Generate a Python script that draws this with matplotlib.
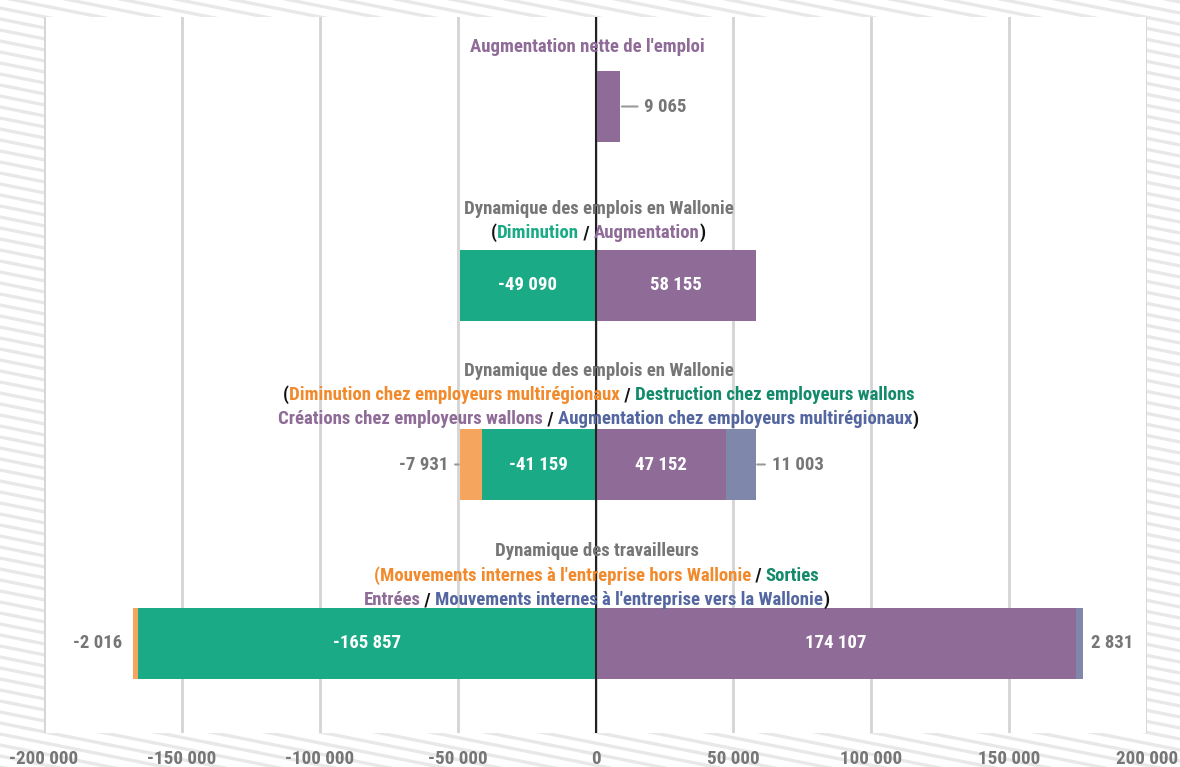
import matplotlib.pyplot as plt
import matplotlib.transforms as mtransforms
from matplotlib.lines import Line2D
import numpy as np

# data
categories = ["Augmentation nette de l'emploi",
              "Dynamique des emplois en Wallonie",
              "Dynamique des emplois en Wallonie (détail)",
              "Dynamique des travailleurs"]
orange_vals = [0, 0, -7931, -2016]
green_vals = [0, -49090, -41159, -165857]
purple_vals = [9065, 58155, 47152, 174107]
blue_vals = [0, 0, 11003, 2831]
x_ticks = [-200000, -150000, -100000, -50000, 0, 50000, 100000, 150000, 200000]

# colours
c_orange = "#f6a55f"
c_green = "#1aab86"
c_purple = "#8f6b98"
c_blue = "#7f88aa"
t_orange = "#f28a2c"
t_dkgreen = "#138a6a"
t_blue = "#5466a0"
t_gray = "#767676"
t_black = "#111111"

FONT = ["Roboto Condensed", "Liberation Sans Narrow", "DejaVu Sans"]
plt.rcParams["font.family"] = FONT
plt.rcParams["font.weight"] = "heavy"

titles = [
    [[("Augmentation nette de l'emploi", c_purple)]],
    [[("Dynamique des emplois en Wallonie", t_gray)],
     [("(", t_black), ("Diminution", c_green), (" / ", t_black),
      ("Augmentation", c_purple), (")", t_black)]],
    [[("Dynamique des emplois en Wallonie", t_gray)],
     [("(", t_black), ("Diminution chez employeurs multirégionaux", t_orange),
      (" / ", t_black), ("Destruction chez employeurs wallons", t_dkgreen)],
     [("Créations chez employeurs wallons", c_purple), (" / ", t_black),
      ("Augmentation chez employeurs multirégionaux", t_blue), (")", t_black)]],
    [[("Dynamique des travailleurs", t_gray)],
     [("(Mouvements internes à l'entreprise hors Wallonie", t_orange),
      (" / ", t_black), ("Sorties", t_dkgreen)],
     [("Entrées", c_purple), (" / ", t_black),
      ("Mouvements internes à l'entreprise vers la Wallonie", t_blue),
      (")", t_black)]],
]
title_first_y = [-0.33, 0.571, 1.476, 2.485]
line_step = 0.136
title_dx = [-8, 3, 3, 1]   # small horizontal nudges (pixels)

W, H = 1180, 767
fig = plt.figure(figsize=(W / 100, H / 100), dpi=100, facecolor="white")
ax = fig.add_axes([44 / W, 34 / H, 1103 / W, 716 / H])
ax.set_facecolor("white")
ax.set_zorder(1)

# striped background
slope = 0.2
for c in np.arange(-300, H + 20, 11):
    xs = np.array([0, W])
    ys = c + slope * xs
    fig.add_artist(Line2D(xs / W, 1 - ys / H, transform=fig.transFigure,
                          color="#e8e8e8", lw=2.4, zorder=-5))

y = np.arange(len(categories))
h = 0.4
ax.barh(y, green_vals, height=h, color=c_green, zorder=2)
ax.barh(y, orange_vals, left=green_vals, height=h, color=c_orange, zorder=2)
ax.barh(y, purple_vals, height=h, color=c_purple, zorder=2)
ax.barh(y, blue_vals, left=purple_vals, height=h, color=c_blue, zorder=2)

ax.axvline(0, color="#222222", lw=1.5, zorder=3)

ax.set_xlim(-200000, 200000)
ax.set_ylim(3.5, -0.5)
ax.set_xticks(x_ticks)
ax.set_xticklabels([f"{v:,}".replace(",", " ") for v in x_ticks])
ax.tick_params(axis="x", length=0, pad=12, labelsize=13.8, labelcolor=t_gray)
ax.set_yticks([])
ax.grid(axis="x", color="#d4d4d4", lw=2, zorder=0)
ax.set_axisbelow(True)
for s in ax.spines.values():
    s.set_visible(False)


def fmt(v):
    return f"{v:,}".replace(",", " ")


lab_kw = dict(fontsize=13.5, fontweight="heavy", va="center", zorder=4)

# labels inside the big segments
for i in range(len(categories)):
    if green_vals[i] != 0:
        ax.text(green_vals[i] / 2, i, fmt(green_vals[i]), color="white", ha="center", **lab_kw)
    if purple_vals[i] > 20000:
        ax.text(purple_vals[i] / 2, i, fmt(purple_vals[i]), color="white", ha="center", **lab_kw)


# small segments: labels outside, with leader lines where shown
def outside(x, yy, txt, side, gap_px, leader):
    sign = 1 if side == "right" else -1
    ax.annotate(txt, xy=(x, yy), xytext=(sign * gap_px * 0.72, 0), textcoords="offset points",
                ha="left" if side == "right" else "right", color=t_gray,
                arrowprops=dict(arrowstyle="-", color="#9a9a9a", lw=1.5,
                                shrinkA=3, shrinkB=1) if leader else None,
                **lab_kw)


outside(purple_vals[0], 0, fmt(purple_vals[0]), "right", 24, True)
outside(green_vals[2] + orange_vals[2], 2, fmt(orange_vals[2]), "left", 12, True)
outside(purple_vals[2] + blue_vals[2], 2, fmt(blue_vals[2]), "right", 16, True)
outside(green_vals[3] + orange_vals[3], 3, fmt(orange_vals[3]), "left", 10, False)
outside(purple_vals[3] + blue_vals[3], 3, fmt(blue_vals[3]), "right", 8, False)

# multi-coloured titles
renderer = fig.canvas.get_renderer()
for i, lines in enumerate(titles):
    for k, pieces in enumerate(lines):
        yy = title_first_y[i] + k * line_step
        texts, widths = [], []
        for s, col in pieces:
            t = ax.text(0, yy, s, color=col, fontsize=13.5, fontweight="heavy",
                        ha="left", va="center", zorder=5)
            texts.append(t)
            widths.append(t.get_window_extent(renderer).width)
        x0 = -sum(widths) / 2 + title_dx[i]
        for t, w in zip(texts, widths):
            t.set_transform(mtransforms.offset_copy(ax.transData, fig=fig, x=x0, y=0, units="dots"))
            x0 += w

fig.savefig("out.png", dpi=100, facecolor="white")
